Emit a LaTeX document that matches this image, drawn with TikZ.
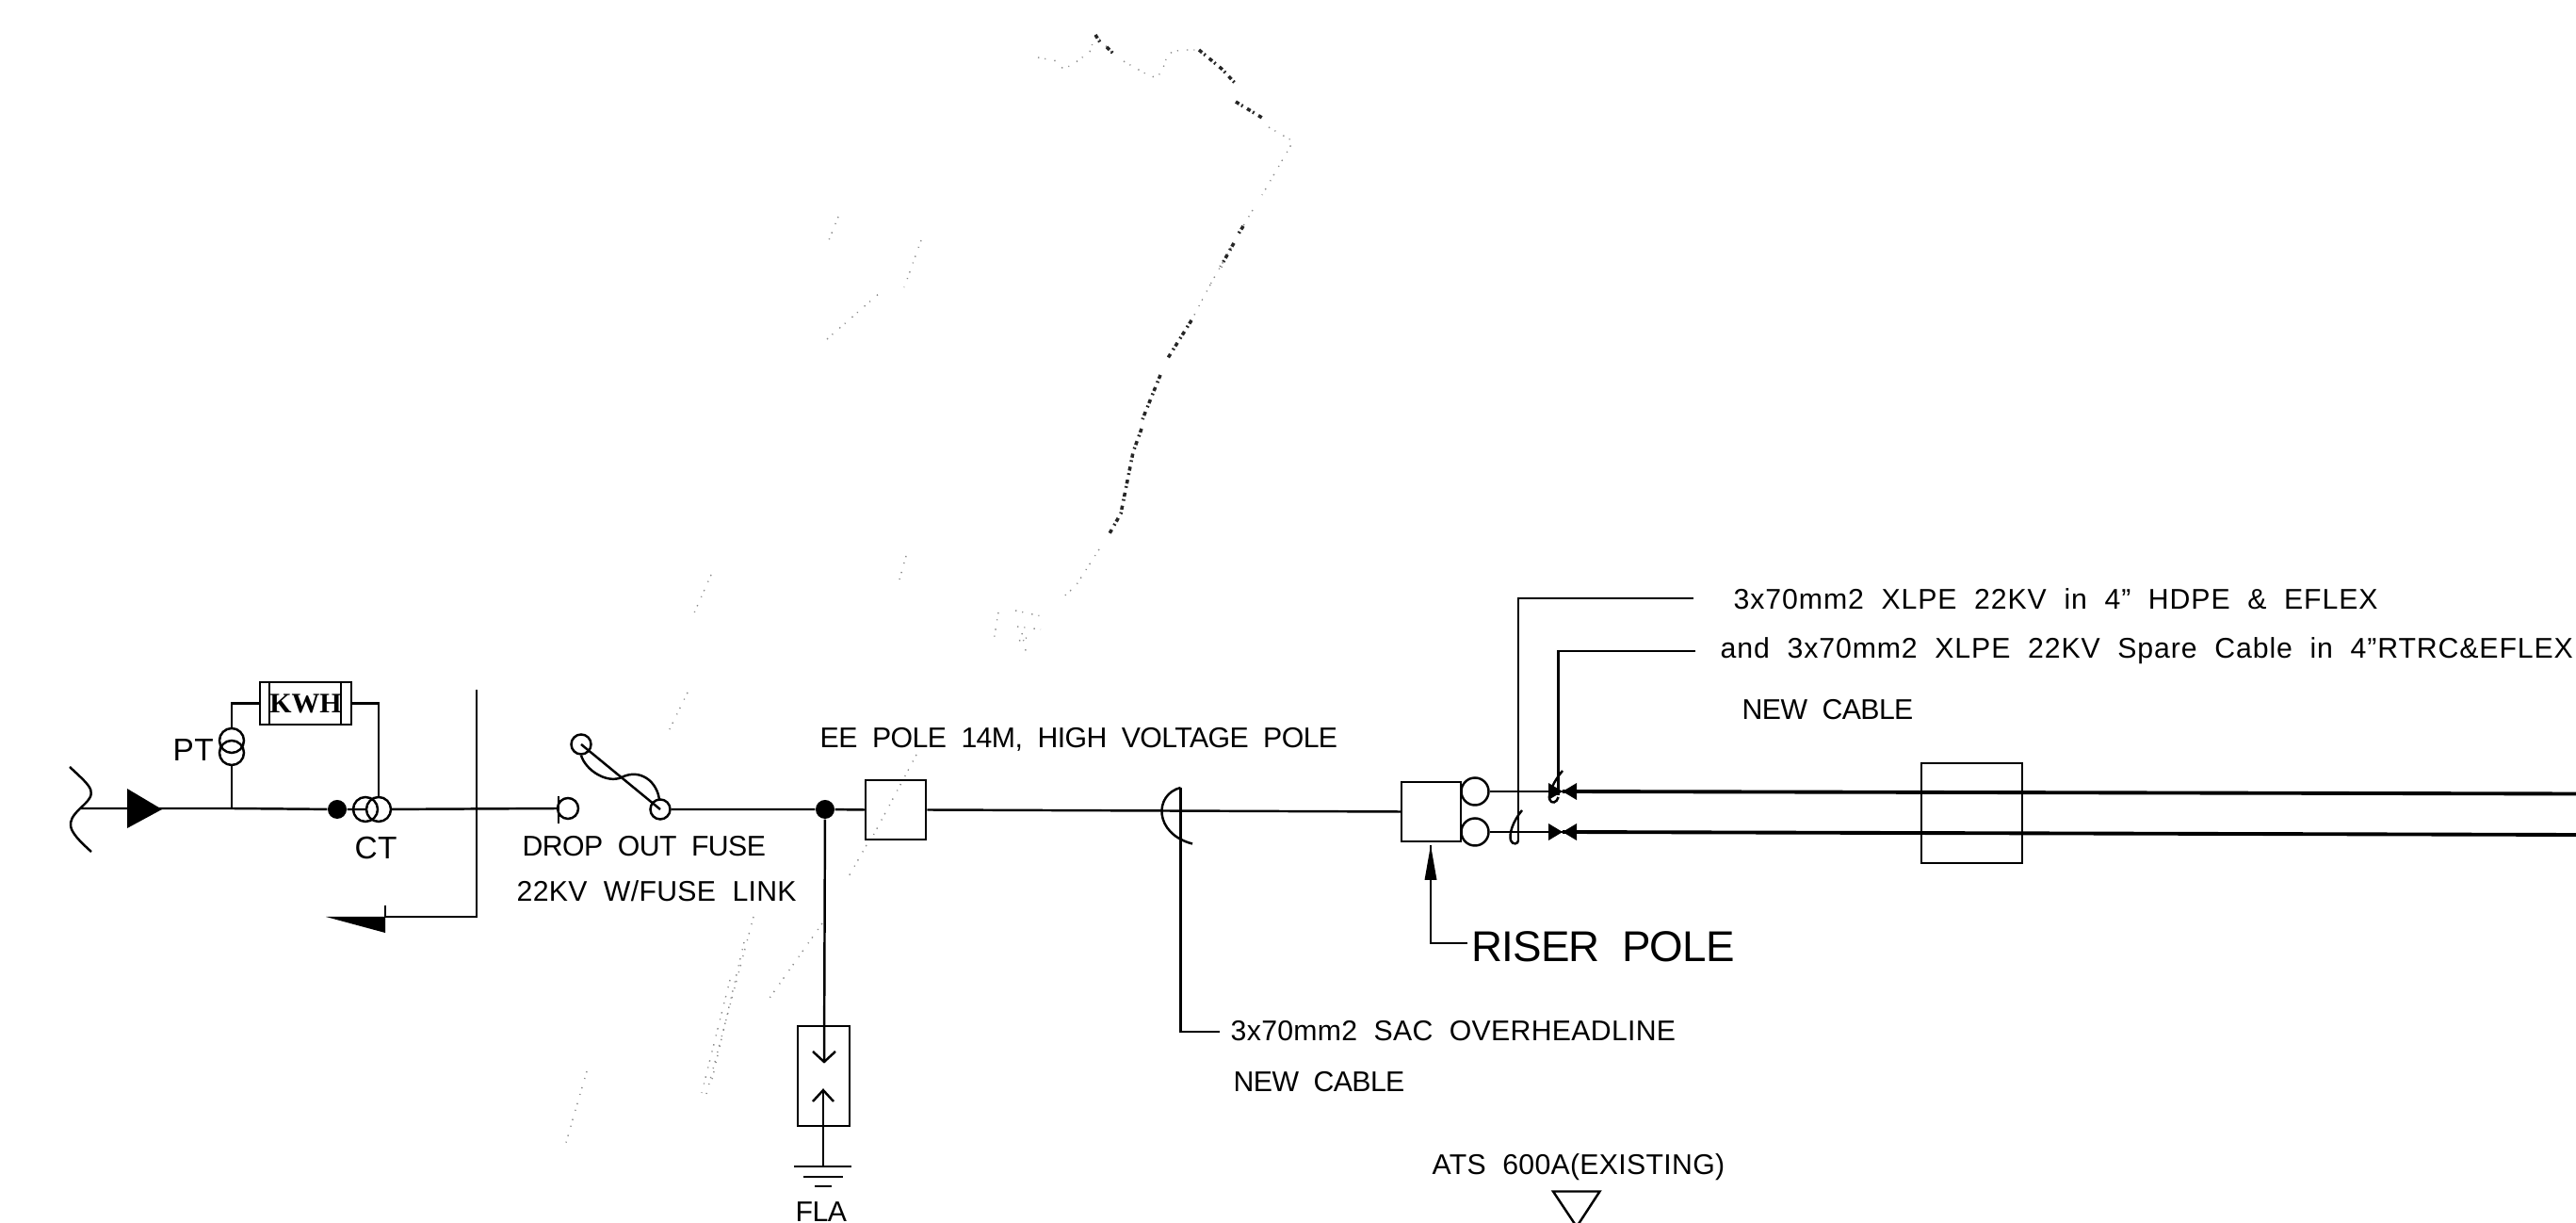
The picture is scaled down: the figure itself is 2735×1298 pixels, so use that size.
\documentclass[tikz,border=0pt]{standalone}
\usepackage{fontspec}
\setmainfont[LetterSpace=1,WordSpace=2.0]{Liberation Sans}
\newfontfamily\captight[LetterSpace=-2,WordSpace=2.0]{Liberation Sans}
\newfontfamily\capwide[LetterSpace=3,WordSpace=2.0]{Liberation Sans}
\newfontfamily\kwhfont{Liberation Serif}
\usetikzlibrary{calc}
\tikzset{
  wire/.style = {line width=.7pt},
  cable/.style = {line width=1.1pt},
  ring/.style = {circle, draw, line width=.7pt, inner sep=0pt, minimum size=#1},
  blob/.style = {circle, fill=black, inner sep=0pt, minimum size=.2cm},
  boxn/.style = {rectangle, draw, line width=.7pt, inner sep=0pt},
  cadtext/.style = {inner sep=0pt, anchor=base west, font=\fontsize{8.6}{10}\selectfont},
  cadcaps/.style = {inner sep=0pt, anchor=base west, font=\captight\fontsize{8.6}{10}\selectfont},
  cadline/.style = {inner sep=0pt, anchor=base west, font=\capwide\fontsize{8.6}{10}\selectfont},
  cadbig/.style = {inner sep=0pt, anchor=base west, font=\captight\fontsize{13}{15}\selectfont},
  speck/.style = {line width=.4pt, black!45, dash pattern=on .4pt off 1.7pt on .3pt off 2.6pt},
  speckd/.style = {line width=1pt, black!85, dash pattern=on 1.2pt off .8pt on .5pt off 1.5pt}
}

\begin{document}
\begin{tikzpicture}[x=0.01cm,y=-0.01cm]
	\clip (0,0) rectangle (2735,1298);

	% scan marks
	\draw[speck] (1102,61) -- (1123,65) (1127,72) -- (1137,70) -- (1157,55) -- (1163,37) -- (1183,58);
	\draw[speck] (1193,65) -- (1223,82) -- (1233,78) -- (1240,57) -- (1253,53) -- (1273,53);
	\draw[speckd] (1163,37) -- (1168,45) (1175,50) -- (1183,58) (1273,53) -- (1297,73) -- (1313,90);
	\draw[speckd] (1312,108) -- (1340,125);
	\draw[speck] (1347,135) -- (1373,150) -- (1340,207);
	\draw[speck] (1330,223) -- (1318,243) (1307,263) -- (1285,302);
	\draw[speckd] (1320,240) -- (1315,248) (1310,258) -- (1296,283);
	\draw[speck] (1285,302) -- (1265,340);
	\draw[speckd] (1265,340) -- (1240,380) (1232,398) -- (1213,445);
	\draw[speckd] (1212,455) -- (1203,480) -- (1197,510) -- (1190,545) -- (1177,568);
	\draw[speck] (1167,583) -- (1142,622) -- (1125,637);
	\draw[speck] (1078,648) -- (1110,655) (1080,665) -- (1105,668) (1082,680) -- (1095,675) (1085,672) -- (1090,695);
	\draw[speck] (890,230) -- (878,260) (978,255) -- (960,305) (878,360) -- (935,310);
	\draw[speck] (755,610) -- (735,655) (962,590) -- (955,615) (1060,650) -- (1055,680);
	\draw[speck] (730,735) -- (708,780) (973,801) -- (927,887) (920,897) -- (900,932);
	\draw[speck] (873,980) -- (813,1065) (800,973) -- (750,1161) (790,1000) -- (755,1150) (775,1040) -- (745,1160);
	\draw[speck] (623,1137) -- (600,1216);

	% incoming side
	\coordinate (lineIn) at (85,858);
	\coordinate (ptTap) at (246,858);
	\draw[wire] (74,814) .. controls (100,838) and (104,841) .. (lineIn) .. controls (70,873) and (70,880) .. (97,904);
	\fill (135,837) -- (172,859) -- (135,879) -- cycle;

	\node[ring=.26cm] (ptTop) at (246,786) {};
	\node[ring=.26cm] (ptBot) at (246,799) {};
	\node[boxn, minimum width=.97cm, minimum height=.45cm, font=\kwhfont\bfseries\fontsize{8.5}{10}\selectfont] (kwh) at (324.5,746.5) {KWH};
	\draw[wire] ([xshift=.11cm]kwh.north west) -- ([xshift=.11cm]kwh.south west);
	\draw[wire] ([xshift=-.12cm]kwh.north east) -- ([xshift=-.12cm]kwh.south east);
	\node[blob] (ctDot) at (358,859) {};
	\node[ring=.26cm] (ctA) at (388,859) {};
	\node[ring=.26cm] (ctB) at (402,859) {};
	\node[ring=.22cm] (fuseIn) at (603,858) {};
	\coordinate (fuseTick) at (593,858);
	\draw[wire] (lineIn) -- (ptTap) -- (ctDot) -- (ctB) -- (fuseTick);
	\draw[wire] (ptTap) -- (ptBot.south);
	\draw[wire] (ptTop.north) |- (kwh.west);
	\draw[wire] (kwh.east) -| (ctB.north);
	\draw[wire] (593,845) -- (593,874);

	\coordinate (panelTop) at (506,732);
	\coordinate (panelBot) at (506,973);
	\coordinate (panelEnd) at (409,973);
	\draw[wire] (panelTop) -- (panelBot) -- (panelEnd);
	\fill (346,973) -- (409,973) -- (409,990) -- cycle;
	\draw[wire] (409,961) -- (409,973);

	% drop out fuse
	\node[ring=.21cm] (swTop) at (617,790) {};
	\node[ring=.21cm] (swBot) at (701,859) {};
	\draw[wire] (swTop.center) -- (swBot.center);
	\draw[wire] (swTop.south) .. controls (622,818) and (645,832) .. (660,825) .. controls (680,815) and (698,830) .. (700,849);

	% pole and arrester
	\node[blob] (poleDot) at (876,859) {};
	\node[boxn, minimum width=.64cm, minimum height=.63cm] (poleBox) at (951,859.5) {};
	\node[boxn, minimum width=.55cm, minimum height=1.06cm] (flaBox) at (874.5,1142) {};
	\coordinate (flaTip) at (875,1127);
	\coordinate (flaBack) at (874,1157);
	\coordinate (earth) at (874,1238);
	\draw[wire] (swBot.east) -- (poleDot) -- (poleBox.west);
	\draw[wire] (poleDot) -- (flaTip);
	\draw[wire] (863,1116) -- (flaTip) -- (887,1116);
	\draw[wire] (earth) -- (flaBack);
	\draw[wire] (863,1169) -- (flaBack) -- (885,1169);
	\draw[wire] (843,1238) -- (904,1238) (853,1249) -- (895,1249) (865,1259) -- (883,1259);

	% overhead line
	\node[boxn, minimum width=.63cm, minimum height=.63cm] (riser) at (1519.5,861.5) {};
	\node[ring=.29cm] (potA) at (1566,840) {};
	\node[ring=.29cm] (potB) at (1566,883) {};
	\coordinate (sacTop) at (1253.5,836);
	\coordinate (sacBot) at (1253.5,1095);
	\coordinate (sacEnd) at (1295,1095);
	\draw[wire] (poleBox.east) -- (riser.west);
	\draw[wire] (sacTop) .. controls (1225,843) and (1225,885) .. (1266,895.5);
	\draw[wire] (sacTop) -- (sacBot) -- (sacEnd);

	% riser pole leader
	\coordinate (riserTip) at (1519,897);
	\coordinate (riserElbow) at (1519,1001);
	\coordinate (riserEnd) at (1558,1001);
	\draw[wire] (riserEnd) -- (riserElbow) -- (riserTip);
	\fill (riserTip) -- (1525.5,934) -- (1512.5,934) -- cycle;

	% cables
	\coordinate (upperEnd) at (2735,842.5);
	\coordinate (lowerEnd) at (2735,886);
	\coordinate (upperTie) at (1659,840);
	\coordinate (lowerTie) at (1659,883);
	\node[boxn, minimum width=1.07cm, minimum height=1.06cm] (cableBox) at (2093.5,863) {};
	\draw[wire] (potA.east) -- (upperTie);
	\draw[wire] (potB.east) -- (lowerTie);
	\draw[cable] (upperTie) -- (upperEnd);
	\draw[cable] (lowerTie) -- (lowerEnd);
	\foreach \tie in {upperTie,lowerTie}
		\fill ($(\tie)+(-15,-9)$) -- ($(\tie)+(15,9)$) -- ($(\tie)+(15,-9)$) -- ($(\tie)+(-15,9)$) -- cycle;

	% cable leaders
	\coordinate (leadA) at (1798,635);
	\coordinate (leadAe) at (1612,635);
	\coordinate (leadAb) at (1612,892);
	\coordinate (leadB) at (1800,691);
	\coordinate (leadBe) at (1654.5,691);
	\coordinate (leadBb) at (1654.5,844);
	\draw[wire] (leadA) -- (leadAe) -- (leadAb);
	\draw[wire] (leadB) -- (leadBe) -- (leadBb);
	\draw[wire] (1616,860) .. controls (1606,872) and (1602,885) .. (1604,892) .. controls (1606,897) and (1612,896) .. (leadAb);
	\draw[wire] (1659,818) .. controls (1649,830) and (1644,842) .. (1645,848) .. controls (1647,854) and (1653,852) .. (1654.5,846);

	% ats marker
	\draw[wire] (1649,1264.5) -- (1698.5,1264.5) -- (1674,1302) -- cycle;

	% labels
	\node[cadtext, font=\fontsize{9.5}{11}\selectfont] (ptLabel) at (183,808) {PT};
	\node[cadtext, font=\fontsize{9.5}{11}\selectfont] (ctLabel) at (376,912) {CT};
	\node[cadcaps] (fuseLabel) at (554,909) {DROP OUT FUSE};
	\node[cadtext] (linkLabel) at (548,957) {22KV W/FUSE LINK};
	\node[cadcaps] (poleLabel) at (870,794) {EE POLE 14M, HIGH VOLTAGE POLE};
	\node[cadcaps] (flaLabel) at (844,1297) {FLA};
	\node[cadtext] (sacLabel) at (1306,1105) {3x70mm2 SAC OVERHEADLINE};
	\node[cadcaps] (sacNew) at (1309,1159) {NEW CABLE};
	\node[cadbig] (riserLabel) at (1562,1021) {RISER POLE};
	\node[cadtext] (atsLabel) at (1520,1247) {ATS 600A(EXISTING)};
	\node[cadline] (cableOne) at (1840,647) {3x70mm2 XLPE 22KV in 4” HDPE \& EFLEX};
	\node[cadline] (cableTwo) at (1826,699) {and 3x70mm2 XLPE 22KV Spare Cable in 4”RTRC\&EFLEX};
	\node[cadcaps] (cableNew) at (1849,764) {NEW CABLE};
\end{tikzpicture}
\end{document}
